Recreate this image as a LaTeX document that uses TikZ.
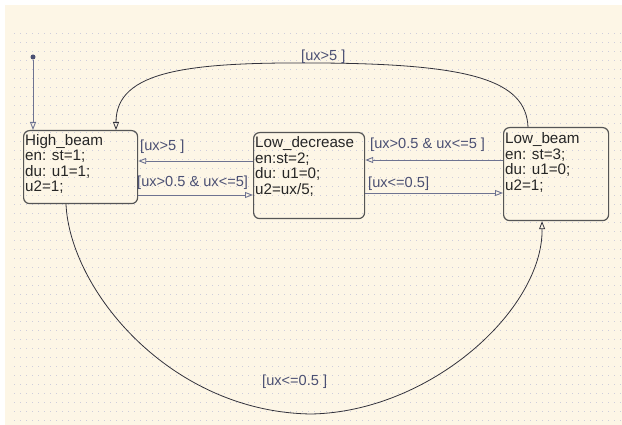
\documentclass[tikz,border=0pt]{standalone}
\usepackage{fontspec}
\setmainfont{Liberation Sans}
\usetikzlibrary{arrows.meta}
\definecolor{paper}{RGB}{253,246,230}
\definecolor{gridblue}{RGB}{120,130,200}
\definecolor{boxline}{RGB}{85,85,85}
\definecolor{trline}{RGB}{110,115,145}
\definecolor{trtext}{RGB}{75,80,115}
\definecolor{arcline}{RGB}{50,50,60}

\begin{document}
\begin{tikzpicture}[x=1pt,y=-1pt,
  state/.style={draw=boxline, line width=1.2pt, rounded corners=6pt, inner sep=0pt, anchor=north west},
  statetext/.style={anchor=north west, align=left, inner sep=0pt,
    font=\fontsize{15.2}{15.5}\selectfont, text=black!85},
  guard/.style={inner sep=0pt, font=\fontsize{14.6}{15}\selectfont, text=trtext},
  opentip/.style={-{Triangle[open,length=8pt,width=6pt]}},
  trans/.style={draw=trline, line width=0.9pt, opentip},
  arcedge/.style={draw=arcline, line width=0.8pt, opentip}]

% canvas with dotted grid
\useasboundingbox (0,0) rectangle (622,425);
\fill[white] (0,0) rectangle (622,425);
\fill[paper] (5,5) rectangle (622,425);
\foreach \yy in {33,42,...,420}
  \draw[gridblue, opacity=0.35, line width=0.9pt, dash pattern=on 0.9pt off 5.1pt] (14,\yy) -- (622,\yy);

% states
\node[state, minimum width=114pt, minimum height=73pt] (hb) at (23,130) {};
\node[statetext] (hbt) at (25,134) {High\_beam\\en: st=1;\\du: u1=1;\\u2=1;};

\node[state, minimum width=111pt, minimum height=86pt] (ld) at (253,132) {};
\node[statetext] (ldt) at (255,136.5) {Low\_decrease\\en:st=2;\\du: u1=0;\\u2=ux/5;};

\node[state, minimum width=105pt, minimum height=93pt] (lb) at (503,127) {};
\node[statetext] (lbt) at (505,132.5) {Low\_beam\\en: st=3;\\du: u1=0;\\u2=1;};

% default transition
\node[circle, fill=trtext, inner sep=0pt, minimum size=5pt] (init) at (33,57) {};
\draw[trans] (init) -- (hb.north -| 33,0);

% straight transitions
\draw[trans] (ld.west |- 0,161) -- (hb.east |- 0,161);
\node[guard, anchor=west] (g1) at (140,147) {[ux>5 ]};

\draw[trans] (hb.east |- 0,195) -- (ld.west |- 0,195);
\node[guard, anchor=west] (g2) at (137,183) {[ux>0.5 \& ux<=5]};

\draw[trans] (lb.west |- 0,160) -- (ld.east |- 0,160);
\node[guard, anchor=west] (g3) at (370,145) {[ux>0.5 \& ux<=5 ]};

\draw[trans] (ld.east |- 0,193) -- (lb.west |- 0,193);
\node[guard, anchor=west] (g4) at (368,184) {[ux<=0.5]};

% curved transitions
\draw[arcedge] (lb.north -| 528,0) .. controls (526,80) and (470,64) .. (320,63)
  .. controls (190,62) and (116,70) .. (hb.north -| 116,0);
\node[guard, anchor=west] (g5) at (301,57) {[ux>5 ]};

\draw[arcedge] (hb.south -| 66,0) .. controls (70,290) and (170,412) .. (311,414)
  .. controls (430,412) and (543,310) .. (lb.south -| 542,0);
\node[guard, anchor=west] (g6) at (262,382) {[ux<=0.5 ]};
\end{tikzpicture}
\end{document}
